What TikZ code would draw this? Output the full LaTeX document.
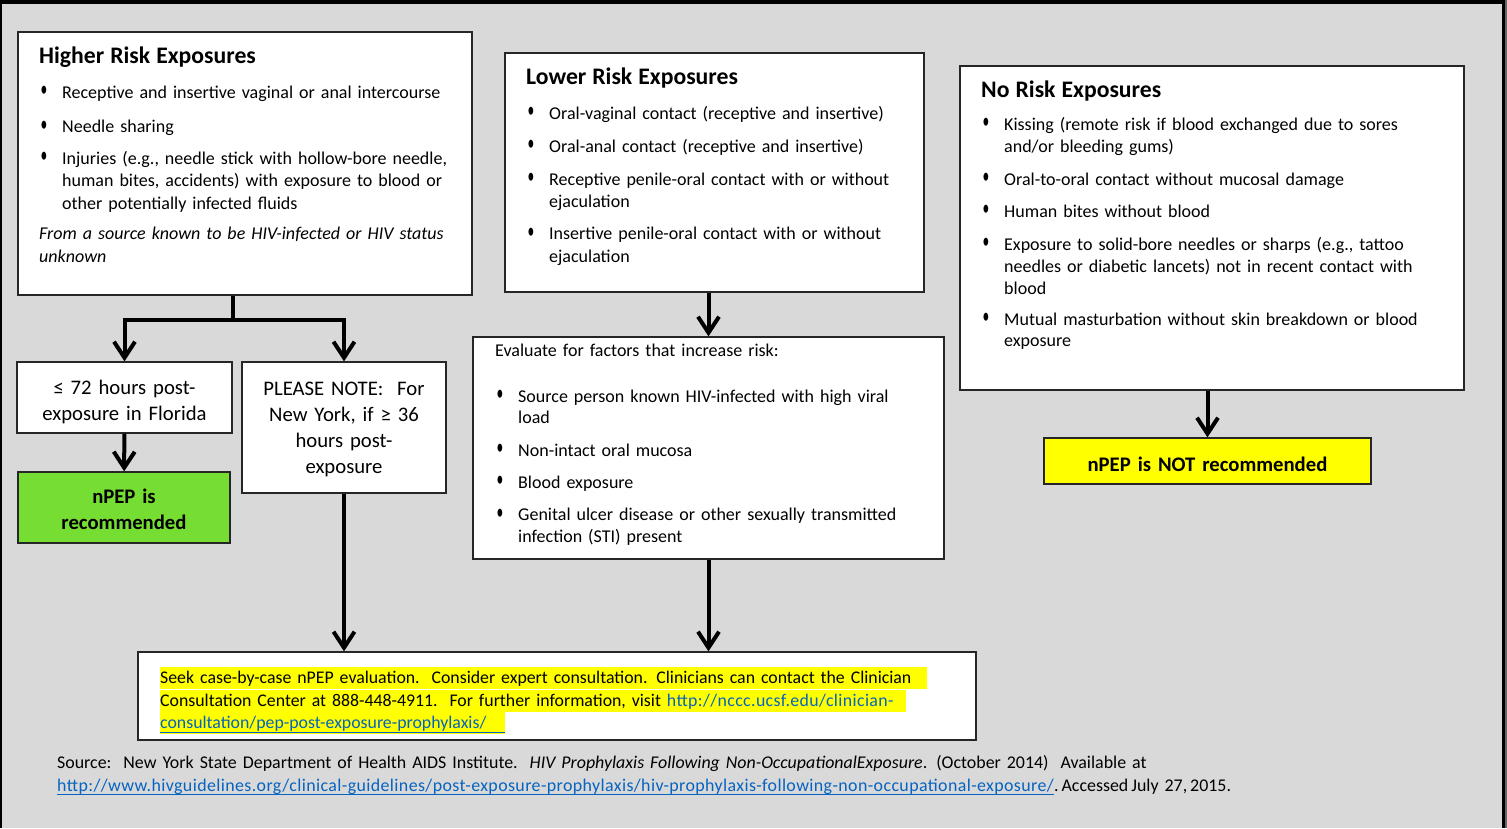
\documentclass[tikz,border=0pt]{standalone}
\usepackage{fontspec}
\setmainfont{Carlito}
\newfontfamily\urlfont{Carlito}[LetterSpace=2.2]
\usetikzlibrary{arrows.meta,fit}
\definecolor{slidegray}{HTML}{D9D9D9}
\definecolor{npepgreen}{RGB}{118,221,50}
\definecolor{hlyellow}{HTML}{FFFF00}
\definecolor{linkblue}{HTML}{0563C1}
\tikzset{>={Straight Barb[length=16pt,width=21pt]}}
\newcommand\bodytxt{\fontsize{18}{22.5}\selectfont}
\newcommand\midtxt{\fontsize{20.7}{26.3}\selectfont}
\newcommand\ttl{\fontsize{23.7}{29}\selectfont\bfseries}
\newcommand\blt{\makebox[23pt][l]{\hspace{1.5pt}\raisebox{1.5pt}{\scalebox{.75}[1.25]{\textbullet}}}}
\newcommand\ind{\hspace*{23pt}}
\newsavebox\lnkbox
\newcommand\lnk[1]{\leavevmode\sbox\lnkbox{\color{linkblue}#1}\textcolor{linkblue}{\rlap{\rule[-4.4pt]{\wd\lnkbox}{1.4pt}}\usebox\lnkbox}}

\begin{document}
\begin{tikzpicture}[x=1pt, y=-1pt,
    box/.style={draw=black!85, line width=1.3pt, fill=white, inner sep=0pt},
    txt/.style={inner sep=0pt, anchor=base west, align=left, font=\bodytxt},
    ctr/.style={inner sep=0pt, anchor=base, align=center, font=\midtxt, text width=#1},
    hl/.style={fill=hlyellow, inner sep=0pt, anchor=base west, align=left,
        font=\fontsize{17.8}{22.5}\selectfont, text height=16.5pt, text depth=5.8pt, text width=#1},
    arr/.style={->, line width=4pt}]
    \useasboundingbox (0,0) rectangle (1507,828);
    \fill[slidegray] (0,0) rectangle (1507,828);
    \fill[black] (0,0) rectangle (1505,4);
    \fill[black] (0,0) rectangle (2,828);
    \fill[black] (1502,0) rectangle (1505,828);
    \fill[black!60] (1505,0) rectangle (1507,828);

    % boxes
    \node[box, fit={(18,32) (472,295)}] (high) {};
    \node[box, fit={(505,53) (924,292)}] (lower) {};
    \node[box, fit={(960,66) (1464,390)}] (norisk) {};
    \node[box, fit={(17,362) (232,433)}] (le72) {};
    \node[box, fill=npepgreen, fit={(18,472) (230,543)}] (rec) {};
    \node[box, fit={(242,362) (446,493)}] (note) {};
    \node[box, fit={(473,337) (944,559)}] (eval) {};
    \node[box, fill=hlyellow, fit={(1044,438) (1371,484)}] (notrec) {};
    \node[box, fit={(138,652) (976,740)}] (seek) {};

    % exposure lists
    \node[txt, text width=440pt] (high-txt) at (39,63) {%
        {\ttl Higher Risk Exposures}\\[12.5pt]
        \blt Receptive and insertive vaginal or anal intercourse\\[12pt]
        \blt Needle sharing\\[9pt]
        \blt Injuries (e.g., needle stick with hollow-bore needle,\\
        \ind human bites, accidents) with exposure to blood or\\
        \ind other potentially infected fluids\\[8pt]
        \textit{From a source known to be HIV-infected or HIV status}\\
        \textit{unknown}};
    \node[txt, text width=395pt] (lower-txt) at (526,84) {%
        {\ttl Lower Risk Exposures}\\[12.5pt]
        \blt Oral-vaginal contact (receptive and insertive)\\[10.5pt]
        \blt Oral-anal contact (receptive and insertive)\\[10.5pt]
        \blt Receptive penile-oral contact with or without\\
        \ind ejaculation\\[9.5pt]
        \blt Insertive penile-oral contact with or without\\
        \ind ejaculation};
    \node[txt, text width=480pt] (norisk-txt) at (981,97) {%
        {\ttl No Risk Exposures}\\[10.5pt]
        \blt Kissing (remote risk if blood exchanged due to sores\\
        \ind and/or bleeding gums)\\[10pt]
        \blt Oral-to-oral contact without mucosal damage\\[9.5pt]
        \blt Human bites without blood\\[10.5pt]
        \blt Exposure to solid-bore needles or sharps (e.g., tattoo\\
        \ind needles or diabetic lancets) not in recent contact with\\[-1pt]
        \ind blood\\[8.5pt]
        \blt Mutual masturbation without skin breakdown or blood\\[-1.5pt]
        \ind exposure};
    \node[txt, text width=445pt] (eval-txt) at (495,356) {%
        Evaluate for factors that increase risk:\\[23.5pt]
        \blt Source person known HIV-infected with high viral\\[-1pt]
        \ind load\\[10pt]
        \blt Non-intact oral mucosa\\[9.5pt]
        \blt Blood exposure\\[10pt]
        \blt Genital ulcer disease or other sexually transmitted\\[-1pt]
        \ind infection (STI) present};

    % time windows and outcomes
    \node[ctr=205pt] (le72-txt) at (124.5,394.5) {≤ 72 hours post-\\exposure in Florida};
    \node[ctr=200pt] (note-txt) at (344,395) {PLEASE NOTE:\ \ For\\New York, if ≥ 36\\hours post-\\exposure};
    \node[ctr=205pt, font=\midtxt\bfseries] (rec-txt) at (124,503.5) {nPEP is\\recommended};
    \node[ctr=320pt, font=\midtxt\bfseries] (notrec-txt) at (1207.5,471) {nPEP is NOT recommended};

    % case-by-case text
    \node[hl=767pt] (seek-1) at (160,683.5) {\mbox{Seek case-by-case nPEP evaluation.\ \ Consider expert consultation. Clinicians can contact the Clinician}};
    \node[hl=746pt] (seek-2) at (160,706) {\mbox{Consultation Center at 888-448-4911.\ \ For further information, visit \textcolor{linkblue}{\urlfont http://nccc.ucsf.edu/clinician-}}};
    \node[hl=345pt] (seek-3) at (160,728.5) {\lnk{\makebox[345pt][l]{consultation/pep-post-exposure-prophylaxis/}}};

    \node[txt, font=\fontsize{17.9}{23}\selectfont, text width=1400pt] (src) at (57,768) {%
        Source:\ \ New York State Department of Health AIDS Institute.\ \ \textit{HIV Prophylaxis Following Non-OccupationalExposure}. (October 2014)\ \ Available at\\
        \lnk{\urlfont http://www.hivguidelines.org/clinical-guidelines/post-exposure-prophylaxis/hiv-prophylaxis-following-non-occupational-exposure/}.\,Accessed\,July 27,\,2015.};

    % connectors
    \coordinate (split) at (233,320);
    \draw[line width=4pt] (high.south -| split) -- (split);
    \draw[arr] (split) -| (le72.north);
    \draw[arr] (split) -| (note.north);
    \draw[arr] (le72) -- (rec);
    \draw[arr] (note.south) -- (note.south |- seek.north);
    \draw[arr] (eval.north |- lower.south) -- (eval.north);
    \draw[arr] (eval.south) -- (eval.south |- seek.north);
    \draw[arr] (notrec.north |- norisk.south) -- (notrec.north);
\end{tikzpicture}
\end{document}
